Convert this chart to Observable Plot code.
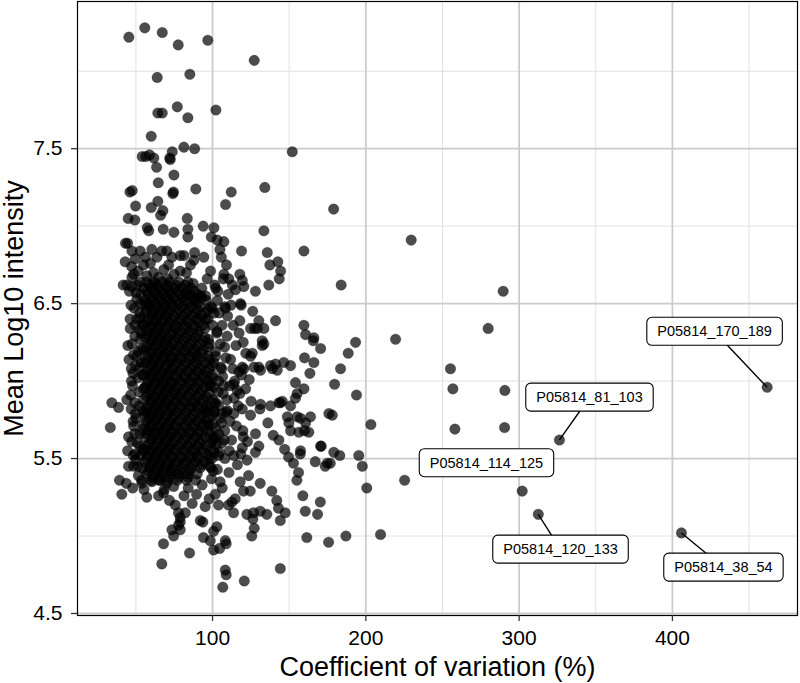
<!DOCTYPE html>
<html><head><meta charset="utf-8">
<script src="https://cdn.jsdelivr.net/npm/d3@7"></script>
<script src="https://cdn.jsdelivr.net/npm/@observablehq/plot@0.6"></script>
<style>body{margin:0;background:#fff;font-family:"Liberation Sans",Arial,sans-serif}</style>
</head><body><div id="chart"></div>
<script>
// [coefficient of variation %, mean log10 intensity]
const topPoints = [[45.4,8.22],[55.8,8.28],[67.2,8.25],[77.6,8.17],[96.9,8.20],[127.2,8.07],
[63.9,7.96],[85.2,7.98],[64.3,7.73],[67.2,7.73],[77.0,7.77],[83.9,7.70],[102.2,7.75],[60.0,7.58],
[73.7,7.48],[81.3,7.51],[88.3,7.50],[152.0,7.48],[54.1,7.45],[56.5,7.45],[58.9,7.46],[61.7,7.44],[72.1,7.44],[72.4,7.43],
[63.5,7.38],[74.8,7.33],[64.6,7.28],[46.1,7.22],[47.6,7.23],[74.1,7.21],[74.5,7.22],[89.1,7.24],[112.2,7.22],[134.1,7.25],[179,7.11],
[108.5,7.14],[49.8,7.13],[64.3,7.16],[60,7.12],[67.6,7.10],[66.1,7.07],[45,7.05],[49.3,7.04],[83.5,7.05],
[57.4,6.99],[58.4,6.97],[67.8,6.98],[74.8,6.96],[83.9,6.98],[83.9,6.93],[93.9,7.0],[100.9,6.99],[99.2,6.93],[103.1,6.91],[107.4,6.90],[133.5,6.97],[43.2,6.89],[229.6,6.91]];

const midPoints = [[104.8,6.85],[118.9,6.84],[135.7,6.83],[159.6,6.84],[81.3,6.81],[88.3,6.83],[94.3,6.80],[85.6,6.75],[87.8,6.78],[105.7,6.80],[109.1,6.75],[137.4,6.75],[142.6,6.77],[144.4,6.71],[143.5,6.66],[136.7,6.62],[83,6.70],[107.4,6.69],[110.6,6.66],[117.8,6.69],[119.4,6.65],[120.4,6.61],[107,6.66],[112.9,6.62],[115,6.59],[128,6.58],[87.4,6.63],[102,6.60],[82.4,6.56],[92.2,6.55],[95.5,6.55],[88.9,6.53],[108,6.48],[118.7,6.49],[183.9,6.62],
[44.6,6.89],[47.4,6.84],[52.8,6.84],[49.5,6.79],[43,6.77],[56.1,6.80],[60.4,6.85],[63.7,6.80],[59.4,6.76],[55,6.75],[66.9,6.84],[70.2,6.84],[73.5,6.80],[71.3,6.75],[78.9,6.81],[78.9,6.71],[48.5,6.69],[47.4,6.67],[52.8,6.64],[57.1,6.68],[61.5,6.70],[64.8,6.67],[61.5,6.63],[44.1,6.62],[47.4,6.61],[50.6,6.53],[52.8,6.50],[41.7,6.62],[68.2,6.72],[74.9,6.69],[70.6,6.66]];

const tailPoints = [[117.8,6.39],[130.2,6.39],[127.4,6.34],[133.5,6.34],[141.1,6.39],[120,6.25],[132.4,6.26],[132.4,6.23],[124.8,6.16],[125.9,6.18],[159.6,6.36],[160.7,6.30],[166.1,6.28],[165.7,6.26],[170.5,6.21],[160,6.15],[166.1,6.12],[163.5,6.05],[141.1,6.11],[146.5,6.12],[150.9,6.10],[139,6.08],[142.2,6.07],[119.4,6.09],[130.2,6.09],[131.3,6.07],[127,6.09],[117.2,6.06],[118.9,6.04],[114.4,6.0],[116.1,5.94],[117.8,5.92],[154.1,5.99],[159.6,5.95],[155.2,5.92],[154.1,5.89],[150.9,5.84],[145.5,5.87],[143.3,5.86],[131.3,5.85],[130.9,5.82],[137.8,5.84],[155.2,5.77],[157.4,5.76],[163.9,5.77],[149.8,5.73],[150.9,5.68],[156.3,5.67],[160,5.68],[136.1,5.73],[139.6,5.65],[143.3,5.62],[147,5.56],[157.4,5.55],[170.5,5.58],[128,5.66],[130.2,5.58],[128,5.54],[120,5.64],[119.4,5.57],[175.9,5.79],[119.4,5.82],[124.8,5.78],[113.9,5.79],[109.6,5.81],[118.2,6.50],[108.5,6.47],[124.8,6.34],[129.2,6.34],[133.5,6.24],[137.8,6.10],[120.4,6.08],[113.9,5.98],[148.8,5.77],[160.7,5.73],[162.8,5.67],[144.3,5.86],
[193.3,6.25],[188.5,6.18],[183.5,6.08],[179.6,5.98],[193.9,5.91],[178.1,5.78],[203.3,5.72],[170.9,5.58],[179.1,5.54],[183,5.52],[195.4,5.52],[197.7,5.45],[225.3,5.36],[219.4,6.27],[255.2,6.08],[256.8,5.95],[290.7,5.94],[258.1,5.69],[290.5,5.70],[279.8,6.34],[289.6,6.58],[174.8,5.47],[200.6,5.31],[187,5.0],[209.6,5.01]];

const lowPoints = [[45.2,5.45],[48.5,5.45],[39.3,5.36],[43.7,5.34],[40.8,5.27],[53.9,5.34],[57.1,5.25],[64.8,5.26],[68.5,5.30],[68,5.28],[60.4,5.35],[65.9,5.36],[70.2,5.34],[74.6,5.32],[75.7,5.20],[77.8,5.15],[78.9,5.12],[82.2,5.15],[78.9,5.09],[77.8,5.07],[73.5,5.04],[74.6,5.0],[78.9,5.04],[68,4.95],[66.9,4.82],[85,4.89],[92,5.10],[93.7,5.09],[95.2,5.19],[94.1,4.99],[98.5,4.97],[100.7,5.03],[102.8,5.06],[100.7,4.91],[104.6,4.92],[108.3,4.97],[108.9,4.95],[108.3,4.78],[108.9,4.75],[106.7,4.67],[120.7,4.71],[144.2,4.79],[103.9,5.20],[110.4,5.20],[113.7,5.15],[112.6,5.22],[114.8,5.24],[118,5.35],[123.5,5.39],[131.1,5.34],[120.2,5.29],[124.6,5.29],[122.4,5.14],[126.7,5.15],[131.1,5.16],[135.4,5.14],[126.3,5.11],[127.2,5.05],[125.6,5.0],[138.7,5.29],[141.9,5.23],[143,5.18],[147.4,5.15],[144.2,5.10],[149.6,5.51],[152.8,5.47],[156.1,5.41],[155,5.36],[158.9,5.26],[160.5,5.16],[161.5,4.99],[170.3,5.22],[168.5,5.14],[167,5.48],[173.5,5.45],[176.8,5.47],[175.7,4.96],[157.2,5.53],
[84.1,5.31],[89.6,5.27],[93.2,5.33],[97.8,5.24],[86.7,5.21],[71.9,5.23],[81.4,5.26]];

const leftPoints = [[34.3,5.86],[38.7,5.83],[33.3,5.70],[44.1,5.88],[45.2,5.64],[48.5,5.71],[49.6,5.79],[49.6,5.53],[46.3,6.34],[52.4,6.33],[50.6,6.40],[52.8,6.41],[44.8,6.23],[48.5,6.17],[50.6,6.16],[47,6.08],[52.4,6.09],
[47.2,6.74],[51.5,6.71],[45.8,6.58],[53.1,6.56],[48.9,6.47],[46.2,6.40],[54.4,6.37],[49.3,6.29],[45.5,6.14],[53.7,6.21],[51.2,6.02],[47.8,5.97],[54.9,5.95],[46.6,5.91],[52.3,5.84],[50.1,5.76],[54.6,5.69],[47.3,5.61],[52.9,5.58],[49.8,5.49],[54.2,5.44],[51.6,5.39],[47.9,5.31],[55.3,5.30],[53.4,6.12],[48.1,6.05],[52.8,5.52],[44.6,5.55],[46.9,5.82],[51.0,6.62],[55.6,6.50],[53.0,6.27],[55.8,5.78],[49.2,5.66],
[50.2,6.57],[46.8,6.49],[52.4,6.44],[49.5,6.36],[53.6,6.31],[47.5,6.24],[51.8,6.19],[49.9,6.10],[54.1,6.04],[47.1,6.00],[52.2,5.93],[49.4,5.86],[54.3,5.81],[48.2,5.74],[52.6,5.66],[50.8,5.60],[54.8,5.55],[48.3,5.52],[51.4,5.45],[53.7,5.36]];

const rightBand = [[101.5,6.62],[104.3,6.44],[110.2,6.56],[102.8,6.31],[107.9,6.22],[113.5,6.36],[100.9,6.12],[106.6,6.03],[111.8,6.14],[103.7,5.93],[109.3,5.88],[115.6,5.71],[101.2,5.81],[105.8,5.73],[112.4,5.62],[102.6,5.59],[108.1,5.50],[116.2,5.46],[100.4,5.42],[104.9,5.35],[110.7,5.41],[101.8,5.27],[106.3,5.31],[99.6,5.50],[103.2,6.52],[98.7,6.71],[122.5,5.49],[118.4,5.53],[114.1,5.89],[121.7,6.18],[126.2,6.45],[111.2,5.97],[100.2,6.02],[104.1,5.66],[107.2,5.97],[109.8,6.42],
[96.5,6.66],[99.8,6.47],[103.5,6.58],[106.2,6.36],[97.4,6.27],[101.9,6.19],[105.4,6.09],[98.6,5.97],[102.3,5.86],[106.8,5.79],[97.1,5.72],[100.8,5.63],[104.5,5.54],[98.2,5.45],[103.1,5.43],[107.6,5.62],[111.4,5.74],[109.5,6.29],[113.2,6.08],[115.3,6.23],[116.7,5.84],[113.9,5.52],[119.8,5.68],[112.1,6.49],[117.3,6.31],[121.6,5.95],[123.9,6.01],[125.1,5.87],[122.8,5.61],[99.3,5.37],[96.1,5.81],[97.9,6.14],[95.6,6.40],[108.7,6.15],[110.9,5.55]];

// dense core, read row by row: [intensity, [cv values]]
const coreRows = [
[6.64,[57,62,67,72,78,84]],
[6.60,[55,60,65,70,75,80,86,93]],
[6.56,[58,63,68,73,79,85,90]],
[6.52,[56,61,66,71,76,82,88,96]],
[6.48,[59,64,69,74,80,86,92,99]],
[6.44,[56,61,66,71,77,83,89,95,101]],
[6.40,[58,63,68,73,79,84,90,97]],
[6.36,[55,60,65,71,76,82,88,94,100]],
[6.32,[58,63,68,74,79,85,91,103]],
[6.28,[56,61,66,71,77,83,89,95]],
[6.24,[59,64,69,74,80,86,92,98,105]],
[6.20,[55,60,66,71,76,82,88,94]],
[6.16,[58,63,68,73,79,85,90,97,102]],
[6.12,[56,61,66,72,77,83,89,95]],
[6.08,[59,64,69,74,80,86,92,98,106]],
[6.04,[55,60,65,71,76,82,88,94,100]],
[6.00,[58,63,68,73,79,85,91,97,104]],
[5.96,[56,61,67,72,77,83,89,95,101]],
[5.92,[59,64,69,75,80,86,92,98,107]],
[5.88,[55,60,66,71,76,82,88,94,100]],
[5.84,[58,63,68,73,79,85,90,96,104]],
[5.80,[56,61,66,72,77,83,89,95,101,109]],
[5.76,[59,64,69,74,80,86,92,98,105]],
[5.72,[55,60,65,71,76,82,88,94,100]],
[5.68,[58,63,68,73,79,85,91,97,108]],
[5.64,[56,61,67,72,77,83,89,95,102]],
[5.60,[59,64,69,74,80,86,92,99,106]],
[5.56,[55,60,66,71,76,82,88,94,100]],
[5.52,[58,63,68,73,79,85,90,97,104]],
[5.48,[56,61,66,72,77,83,89,95]],
[5.44,[59,64,69,74,80,86,92,99]],
[5.40,[57,62,67,73,78,84,90]],
[5.36,[60,65,71,77,83,89]]
];
// second pass through the darkest part of the core
const coreRows2 = [
[6.62,[59,64,70,76,82]],
[6.58,[57,62,67,72,77,83,88]],
[6.54,[60,65,70,75,81,87,93]],
[6.50,[58,63,68,73,78,84,90]],
[6.46,[57,62,67,72,78,84,90,97]],
[6.42,[60,65,70,75,81,87,93]],
[6.38,[57,62,67,72,78,84,91]],
[6.34,[60,65,70,76,82,88,95]],
[6.30,[57,62,67,73,78,84,90]],
[6.26,[60,65,70,75,81,87,94]],
[6.22,[57,62,67,72,78,84,90,97]],
[6.18,[60,65,70,76,82,88,93]],
[6.14,[57,62,68,73,79,85,91]],
[6.10,[60,65,70,75,81,87,93,100]],
[6.06,[57,62,67,72,78,84,90,96]],
[6.02,[60,65,70,76,82,88,94]],
[5.98,[57,62,67,73,79,85,91,98]],
[5.94,[60,65,70,75,81,87,93]],
[5.90,[57,62,67,72,78,84,90,96]],
[5.86,[60,65,70,76,82,88,94,101]],
[5.82,[57,62,67,73,79,85,91,97]],
[5.78,[60,65,70,75,81,87,93,100]],
[5.74,[57,62,67,72,78,84,90,96]],
[5.70,[60,65,70,76,82,88,94,102]],
[5.66,[57,62,67,73,79,85,91,98]],
[5.62,[60,65,70,75,81,87,93,100]],
[5.58,[57,62,67,72,78,84,90,96]],
[5.54,[60,65,70,76,82,88,94,101]],
[5.50,[57,62,67,73,79,85,91,98]],
[5.46,[60,65,70,75,81,87,93]],
[5.42,[58,63,68,73,79,85]],
[5.38,[61,66,72,78,84]]
];

// labelled peptides: point, label centre
const labelNames = ["P05814_170_189","P05814_81_103","P05814_114_125","P05814_120_133","P05814_38_54"];
const labelCv = [461.8, 326.3, 302.0, 312.5, 405.9];
const labelMi = [5.96, 5.62, 5.29, 5.14, 5.02];
const labelBoxCv = [427.5, 345.9, 278.7, 327.0, 433.3];
const labelBoxMi = [6.319, 5.894, 5.471, 4.913, 4.797];
const labelSegment = [true, true, false, true, true];

const xMajor = [100, 200, 300, 400];
const xMinor = [50, 150, 250, 350, 450];
const yMajor = [4.5, 5.5, 6.5, 7.5];
const yMinor = [5.0, 6.0, 7.0, 8.0];

const labelled = labelNames.map((name, i) => ({name, cv: labelCv[i], mi: labelMi[i], lx: labelBoxCv[i], ly: labelBoxMi[i], seg: labelSegment[i]}));
const pts = [...topPoints, ...midPoints, ...tailPoints, ...lowPoints, ...leftPoints, ...rightBand,
  ...coreRows.flatMap(([y, xs]) => xs.map(x => [x, y])),
  ...coreRows2.flatMap(([y, xs]) => xs.map(x => [x, y])),
  ...labelled.map(d => [d.cv, d.mi])].map(([cv, mi]) => ({cv, mi}));

const font = "Liberation Sans, Arial, Helvetica, sans-serif";
const chart = Plot.plot({
  width: 800, height: 683,
  marginLeft: 77, marginRight: 3, marginTop: 1, marginBottom: 68,
  style: {fontFamily: font, background: "#fff", color: "#000"},
  x: {domain: [11.9, 481.6]},
  y: {domain: [4.487, 8.45]},
  marks: [
    Plot.ruleX(xMinor, {stroke: "#dedede", strokeWidth: 0.9}),
    Plot.ruleY(yMinor, {stroke: "#dedede", strokeWidth: 0.9}),
    Plot.ruleX(xMajor, {stroke: "#cbcbcb", strokeWidth: 1.8}),
    Plot.ruleY(yMajor, {stroke: "#cbcbcb", strokeWidth: 1.8}),
    Plot.dot(pts, {x: "cv", y: "mi", r: 5.3, fill: "#000", fillOpacity: 0.7, stroke: "#000", strokeOpacity: 0.35, strokeWidth: 0.6}),
    Plot.link(labelled.filter(d => d.seg), {x1: "cv", y1: "mi", x2: "lx", y2: "ly", stroke: "#000", strokeWidth: 1.4}),
    Plot.text(labelled, {x: "lx", y: "ly", text: "name", fontSize: 14.5, fill: "#000"}),
    Plot.frame({stroke: "#000", strokeWidth: 1.2}),
    Plot.axisX(xMajor, {tickSize: 6, tickPadding: 9, fontSize: 21, label: null, stroke: "#333", strokeWidth: 1.3}),
    Plot.axisY(yMajor, {tickSize: 6, tickPadding: 9, fontSize: 21, label: null, stroke: "#333", strokeWidth: 1.3, tickFormat: d => d.toFixed(1)}),
    Plot.text([0], {frameAnchor: "bottom", dy: 60, text: () => "Coefficient of variation (%)", fontSize: 27}),
    Plot.text([0], {frameAnchor: "left", textAnchor: "middle", dx: -63, rotate: -90, text: () => "Mean Log10 intensity", fontSize: 27})
  ]
});
document.getElementById("chart").appendChild(chart);

// rounded white boxes behind repel labels
const svgNS = "http://www.w3.org/2000/svg";
chart.querySelectorAll("text").forEach(t => {
  if (!labelNames.includes(t.textContent)) return;
  const bb = t.getBBox();
  const r = document.createElementNS(svgNS, "rect");
  const w = bb.width + 21, h = 28;
  r.setAttribute("x", bb.x + bb.width / 2 - w / 2);
  r.setAttribute("y", bb.y + bb.height / 2 - h / 2);
  r.setAttribute("width", w);
  r.setAttribute("height", h);
  r.setAttribute("rx", 5);
  r.setAttribute("fill", "#fff");
  r.setAttribute("stroke", "#000");
  r.setAttribute("stroke-width", 1.1);
  if (t.getAttribute("transform")) r.setAttribute("transform", t.getAttribute("transform"));
  t.parentNode.insertBefore(r, t);
});
</script></body></html>
